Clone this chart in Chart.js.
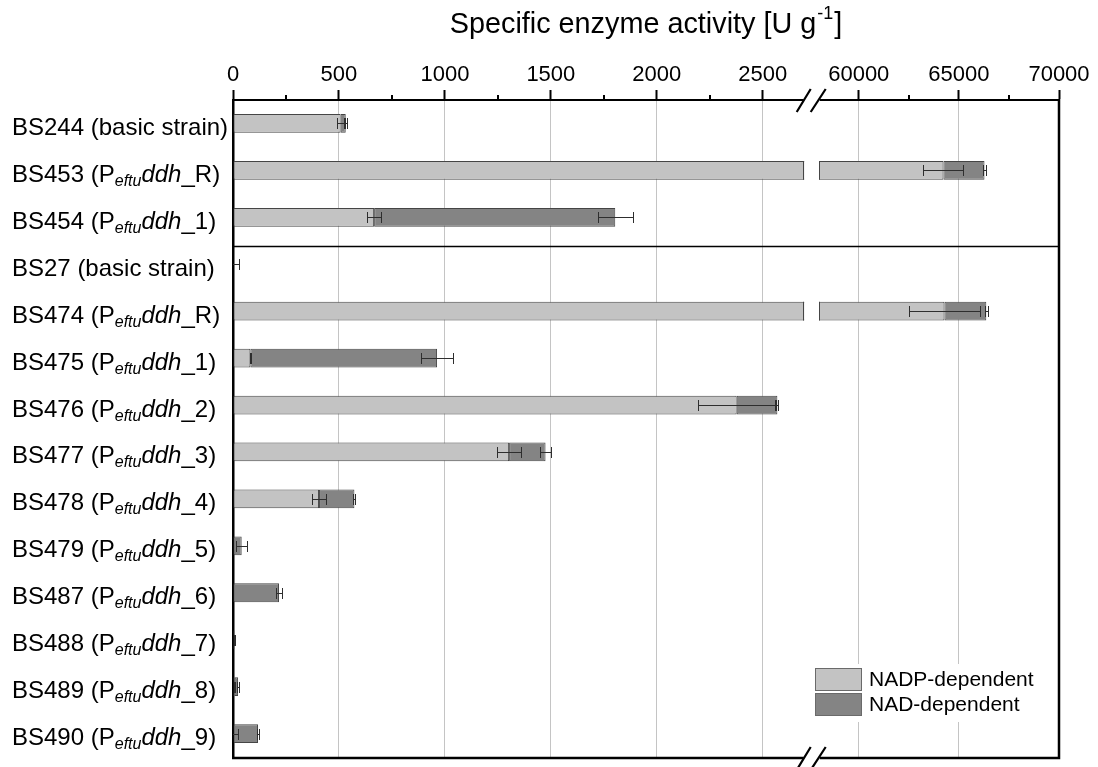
<!DOCTYPE html>
<html>
<head>
<meta charset="utf-8">
<title>Specific enzyme activity</title>
<script src="https://cdn.jsdelivr.net/npm/chart.js@4/dist/chart.umd.min.js"></script>
<style>
  html, body { margin: 0; padding: 0; background: #fff; }
  #wrap { width: 1098px; height: 767px; position: relative; }
</style>
</head>
<body>
<div id="wrap"><canvas id="activityChart"></canvas></div>
<script>
// strains and the construct they carry ('basic strain' = no ddh construct)
const strains = ['BS244', 'BS453', 'BS454', 'BS27', 'BS474', 'BS475', 'BS476',
  'BS477', 'BS478', 'BS479', 'BS487', 'BS488', 'BS489', 'BS490'];
const constructs = ['basic strain', 'R', '1', 'basic strain', 'R', '1', '2',
  '3', '4', '5', '6', '7', '8', '9'];

// specific activity [U g-1]
const nadpValues = [508, 64230, 666, 2, 64280, 82, 2377, 1303, 406, 0, 0, 0, 8, 3];
const nadpErrors = [17, 1000, 32, 25, 1790, 3, 181, 57, 35, 0, 0, 0, 3, 22];
const nadValues = [24, 2050, 1138, 0, 2090, 881, 192, 172, 167, 41, 217, 7, 16, 115];
const nadErrors = [4, 70, 83, 0, 85, 76, 5, 25, 5, 25, 14, 2, 4, 3];

// broken x axis: two ranges, their ticks and the labelled ticks
const leftRange = [0, 2731];
const rightRange = [57650, 70000];
const leftTicks = [0, 250, 500, 750, 1000, 1250, 1500, 1750, 2000, 2250, 2500];
const leftLabels = [0, 500, 1000, 1500, 2000, 2500];
const rightTicks = [60000, 62500, 65000, 67500, 70000];
const rightLabels = [60000, 65000, 70000];

const seriesNames = ['NADP-dependent', 'NAD-dependent'];

const FONT = "'Liberation Sans', Arial, Helvetica, sans-serif";
const LIGHT = '#c3c3c3';
const DARK = '#848484';
const EDGE = '#454545';
const GRID = '#c4c4c4';
const GAP = 7.5;

const labels = strains.map((s, i) =>
  constructs[i] === 'basic strain' ? `${s} (basic strain)` : `${s} (Peftuddh_${constructs[i]})`);

function barSet(label, data, color, axis) {
  return {
    label, data,
    backgroundColor: color,
    borderColor: EDGE,
    borderWidth: 1,
    borderSkipped: false,
    xAxisID: axis,
    yAxisID: 'y',
    stack: 'all',
    barPercentage: 0.4,
    categoryPercentage: 1,
  };
}

function xAxis(range, ticks, majors, weight, order) {
  const isMajor = c => c.tick && majors.includes(c.tick.value);
  return {
    type: 'linear',
    position: 'top',
    stack: 'top',
    stackWeight: weight,
    weight: order,
    stacked: true,
    min: range[0],
    max: range[1],
    afterBuildTicks: s => { s.ticks = ticks.map(v => ({ value: v })); },
    afterFit: s => { s.height = 42; },
    ticks: {
      autoSkip: false,
      maxRotation: 0,
      padding: 2,
      color: '#000',
      font: { family: FONT, size: 22 },
      callback: v => (majors.includes(v) ? String(v) : ''),
    },
    grid: {
      tickLength: 10,
      tickWidth: 2,
      lineWidth: 1,
      color: c => (isMajor(c) && c.tick.value !== 0 && c.tick.value !== rightRange[1] ? GRID : 'rgba(0,0,0,0)'),
      tickColor: c => (isMajor(c) ? '#000' : 'rgba(0,0,0,0)'),
    },
    border: { color: '#000', width: 2 },
  };
}

// which x scale shows a given value
function scaleFor(chart, v) {
  return v <= leftRange[1] ? chart.scales.xL : chart.scales.xR;
}

function clipTo(chart, scale) {
  const { top, bottom } = chart.chartArea;
  const ctx = chart.ctx;
  ctx.beginPath();
  if (scale.id === 'xL') ctx.rect(scale.left, top - 1, scale.width - GAP, bottom - top + 2);
  else ctx.rect(scale.left + GAP, top - 1, scale.width - GAP, bottom - top + 2);
  ctx.clip();
}

function slashes(ctx, cx, y) {
  ctx.save();
  ctx.fillStyle = '#fff';
  ctx.fillRect(cx - 8, y - 3, 16, 6);
  ctx.strokeStyle = '#000';
  ctx.lineWidth = 2.2;
  ctx.beginPath();
  ctx.moveTo(cx - 15, y + 12); ctx.lineTo(cx - 1, y - 11);
  ctx.moveTo(cx - 1, y + 12); ctx.lineTo(cx + 14, y - 11);
  ctx.stroke();
  ctx.restore();
}

const brokenAxis = {
  id: 'brokenAxis',
  beforeDatasetDraw(chart, args) {
    chart.ctx.save();
    clipTo(chart, chart.scales[args.meta.xAxisID]);
  },
  afterDatasetDraw(chart) {
    chart.ctx.restore();
  },
  afterDatasetsDraw(chart) {
    const ctx = chart.ctx;
    const { xL, xR, y } = chart.scales;
    const area = chart.chartArea;
    const bars = chart.getDatasetMeta(0).data;

    // cut edges of bars running through the break
    ctx.save();
    ctx.strokeStyle = EDGE;
    ctx.lineWidth = 1;
    nadpValues.forEach((v, i) => {
      if (v + nadValues[i] <= leftRange[1]) return;
      const h = bars[i].height;
      const yc = y.getPixelForValue(i);
      const xa = Math.round(xL.right - GAP), xb = Math.round(xR.left + GAP);
      ctx.beginPath();
      ctx.moveTo(xa - 0.5, yc - h / 2); ctx.lineTo(xa - 0.5, yc + h / 2);
      ctx.moveTo(xb + 0.5, yc - h / 2); ctx.lineTo(xb + 0.5, yc + h / 2);
      ctx.stroke();
    });
    ctx.restore();

    // error bars at the end of each segment
    const ends = [
      nadpValues.map((v, i) => [v, nadpErrors[i]]),
      nadValues.map((v, i) => [nadpValues[i] + v, nadErrors[i]]),
    ];
    ctx.save();
    ctx.strokeStyle = '#2e2e2e';
    ctx.lineWidth = 1;
    ends.forEach(series => series.forEach(([end, err], i) => {
      if (!err) return;
      const sc = scaleFor(chart, end);
      const yc = Math.round(y.getPixelForValue(i)) + 0.5;
      const x1 = Math.round(sc.getPixelForValue(end - err)) + 0.5;
      const x2 = Math.round(sc.getPixelForValue(end + err)) + 0.5;
      ctx.save();
      clipTo(chart, sc);
      ctx.beginPath();
      ctx.moveTo(x1, yc); ctx.lineTo(x2, yc);
      ctx.moveTo(x1, yc - 5.5); ctx.lineTo(x1, yc + 5.5);
      ctx.moveTo(x2, yc - 5.5); ctx.lineTo(x2, yc + 5.5);
      ctx.stroke();
      ctx.restore();
    }));
    ctx.restore();

    // divider between the two strain groups
    ctx.save();
    const yd = Math.round(y.getPixelForValue(2.62)) + 0.5;
    ctx.strokeStyle = '#000';
    ctx.lineWidth = 1.3;
    ctx.beginPath();
    ctx.moveTo(area.left, yd); ctx.lineTo(area.right, yd);
    ctx.stroke();
    ctx.restore();
  },
  afterDraw(chart) {
    const ctx = chart.ctx;
    const { xL, xR, y } = chart.scales;
    const area = chart.chartArea;

    // minor ticks
    ctx.save();
    ctx.strokeStyle = '#000';
    ctx.lineWidth = 2;
    [[xL, leftLabels], [xR, rightLabels]].forEach(([sc, majors]) => {
      sc.ticks.forEach(t => {
        if (majors.includes(t.value)) return;
        const px = Math.round(sc.getPixelForValue(t.value));
        ctx.beginPath();
        ctx.moveTo(px, area.top - 5); ctx.lineTo(px, area.top);
        ctx.stroke();
      });
    });

    // right and bottom frame
    ctx.lineWidth = 2.5;
    ctx.beginPath();
    ctx.moveTo(area.right, area.top - 1); ctx.lineTo(area.right, area.bottom + 1);
    ctx.lineTo(area.left - 1, area.bottom + 1);
    ctx.stroke();
    ctx.restore();

    // axis break marks
    const cx = xL.right;
    slashes(ctx, cx, area.top);
    slashes(ctx, cx, area.bottom + 1);

    // strain labels with italic gene name and subscript promoter
    ctx.save();
    ctx.fillStyle = '#000';
    ctx.textBaseline = 'alphabetic';
    ctx.textAlign = 'left';
    strains.forEach((s, i) => {
      const base = y.getPixelForValue(i) + 11.5;
      const parts = constructs[i] === 'basic strain'
        ? [[`${s} (basic strain)`, `24px ${FONT}`, 0]]
        : [[`${s} (P`, `24px ${FONT}`, 0], ['eftu', `italic 16px ${FONT}`, 4],
           ['ddh', `italic 24px ${FONT}`, 0], [`_${constructs[i]})`, `24px ${FONT}`, 0]];
      let x = 12;
      parts.forEach(([text, font, dy]) => {
        ctx.font = font;
        ctx.fillText(text, x, base + dy);
        x += ctx.measureText(text).width;
      });
    });

    // axis title with superscript unit
    const main = 'Specific enzyme activity [U g';
    ctx.font = `28.8px ${FONT}`;
    const w1 = ctx.measureText(main).width;
    const w3 = ctx.measureText(']').width;
    ctx.font = `18px ${FONT}`;
    const w2 = ctx.measureText('-1').width;
    let tx = (area.left + area.right) / 2 - (w1 + w2 + w3 + 2) / 2;
    ctx.font = `28.8px ${FONT}`;
    ctx.fillText(main, tx, 33);
    tx += w1 + 1;
    ctx.font = `18px ${FONT}`;
    ctx.fillText('-1', tx, 19);
    tx += w2 + 1;
    ctx.font = `28.8px ${FONT}`;
    ctx.fillText(']', tx, 33);

    // legend in the lower right corner
    const lx = area.right - 244;
    const ly = area.bottom - 89;
    ctx.fillStyle = '#fff';
    ctx.fillRect(lx - 4, ly - 4, 232, 58);
    ctx.font = `21px ${FONT}`;
    ctx.textBaseline = 'middle';
    chart.data.datasets.slice(0, 2).forEach((ds, k) => {
      const sy = ly + k * 25;
      ctx.fillStyle = ds.backgroundColor;
      ctx.fillRect(lx, sy, 47, 23);
      ctx.strokeStyle = '#6a6a6a';
      ctx.lineWidth = 1;
      ctx.strokeRect(lx + 0.5, sy + 0.5, 46, 22);
      ctx.fillStyle = '#000';
      ctx.fillText(ds.label, lx + 54, sy + 12);
    });
    ctx.restore();
  },
};

new Chart(document.getElementById('activityChart'), {
  type: 'bar',
  data: {
    labels,
    datasets: [
      barSet(seriesNames[0], nadpValues, LIGHT, 'xL'),
      barSet(seriesNames[1], nadValues, DARK, 'xL'),
      barSet(seriesNames[0], nadpValues, LIGHT, 'xR'),
      barSet(seriesNames[1], nadValues, DARK, 'xR'),
    ],
  },
  options: {
    indexAxis: 'y',
    responsive: true,
    maintainAspectRatio: false,
    animation: false,
    layout: { padding: { top: 58, right: 39, bottom: 10, left: 0 } },
    scales: {
      xL: xAxis(leftRange, leftTicks, leftLabels, 578, 1),
      xR: xAxis(rightRange, rightTicks, rightLabels, 247, 0),
      y: {
        type: 'category',
        stacked: true,
        afterFit: s => { s.width = 233; },
        ticks: { display: false },
        grid: { display: false, drawTicks: false },
        border: { color: '#000', width: 2.5 },
      },
    },
    plugins: {
      legend: { display: false },
      tooltip: { enabled: false },
      title: { display: false },
    },
  },
  plugins: [brokenAxis],
});
</script>
</body>
</html>
